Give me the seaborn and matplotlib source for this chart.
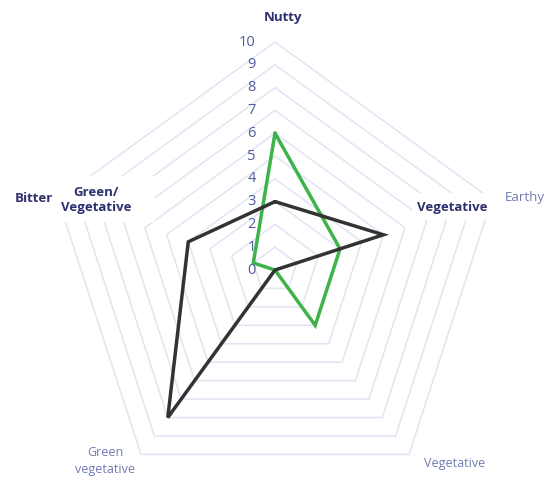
import matplotlib
matplotlib.use("Agg")
import matplotlib.pyplot as plt
from matplotlib.patches import Rectangle
import numpy as np
import seaborn as sns

sns.set_theme(style="white")
plt.rcParams["font.family"] = ["Open Sans", "DejaVu Sans"]

# axis order (clockwise from the top)
categories = ["Nutty", "Earthy", "Vegetative", "Green vegetative", "Bitter"]
green_series = [6, 3, 3, 0, 1]
dark_series = [3, 5, 0, 8, 4]
levels = list(range(0, 11))

NAVY = "#2e2f6e"
PALE = "#6f7bb3"
GRID = "#e1e4f3"

angles = np.linspace(0, 2 * np.pi, len(categories), endpoint=False)
closed = np.append(angles, angles[0])

fig = plt.figure(figsize=(5.59, 4.83), dpi=100)
W, H = 559, 483
cx, cy, rad = 275, 270, 228
ax = fig.add_axes([(cx - rad) / W, (H - cy - rad) / H, 2 * rad / W, 2 * rad / H],
                  projection="polar")
ax.set_theta_offset(np.pi / 2)
ax.set_theta_direction(-1)
ax.set_ylim(0, 10)
ax.grid(False)
ax.spines["polar"].set_visible(False)
ax.set_xticks([])
ax.set_yticks([])
ax.patch.set_alpha(0)

# pentagon rings
for lv in levels[1:]:
    ax.plot(closed, [lv] * len(closed), color=GRID, lw=1.1, zorder=1, clip_on=False)

# series
ax.plot(closed, green_series + green_series[:1], color="#3db34a", lw=2.5, zorder=3,
        clip_on=False, solid_joinstyle="miter")
ax.plot(closed, dark_series + dark_series[:1], color="#333333", lw=2.5, zorder=4,
        clip_on=False, solid_joinstyle="miter")

# value labels along the vertical axis
for lv in levels:
    ax.annotate(str(lv), xy=(0, lv), xytext=(-14, 0), textcoords="offset points",
                ha="right", va="center", fontsize=10.5, color="#4f5a9c", zorder=5)


def ftext(x, y, s, **kw):
    return fig.text(x / W, 1 - y / H, s, **kw)


# original (pale) category labels
ftext(525, 197, "Earthy", ha="center", va="center", fontsize=9.5, color=PALE)
ftext(455, 464, "Vegetative", ha="center", va="center", fontsize=9, color=PALE)
ftext(105, 461, "Green\nvegetative", ha="center", va="center", fontsize=9,
      color=PALE, linespacing=1.5)

# white patches behind the overlaid labels
fig.patches.append(Rectangle((412 / W, 1 - 220 / H), 97 / W, 27 / H,
                             transform=fig.transFigure, facecolor="white",
                             edgecolor="none", zorder=2))
fig.patches.append(Rectangle((55 / W, 1 - 222 / H), 100 / W, 46 / H,
                             transform=fig.transFigure, facecolor="white",
                             edgecolor="none", zorder=2))

# overlaid bold labels
ftext(283, 18, "Nutty", ha="center", va="center", fontsize=9.5, fontweight="bold",
      color=NAVY)
ftext(34, 198, "Bitter", ha="center", va="center", fontsize=9.5, fontweight="bold",
      color=NAVY)
ftext(96, 200, "Green/\nVegetative", ha="center", va="center", fontsize=9.5,
      fontweight="bold", color=NAVY, linespacing=1.1, zorder=3)
ftext(452, 207, "Vegetative", ha="center", va="center", fontsize=9.5,
      fontweight="bold", color=NAVY, zorder=3)

fig.savefig("out.png", dpi=100, facecolor="white")
